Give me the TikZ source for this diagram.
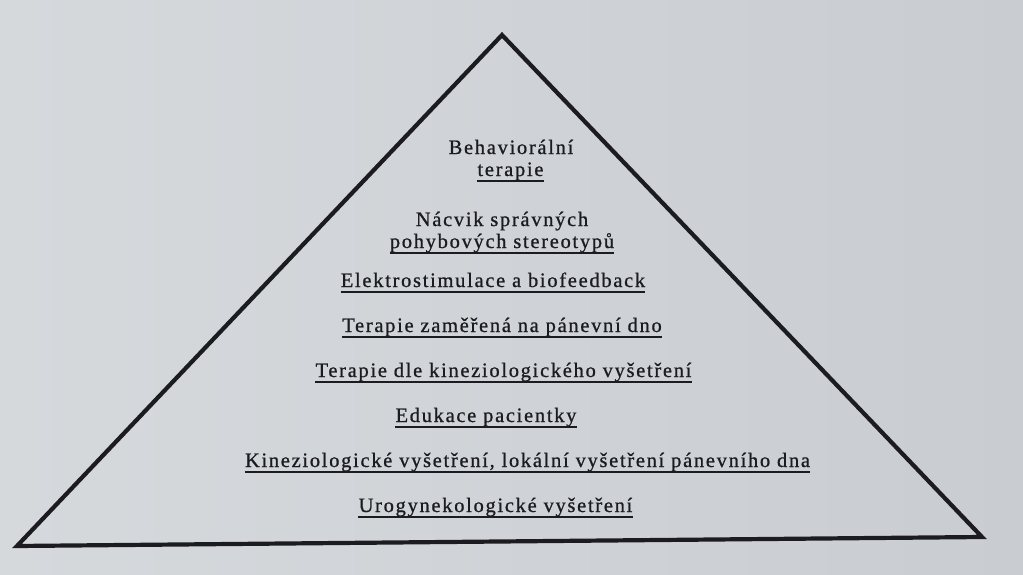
\documentclass[tikz,border=0pt]{standalone}
\usepackage{fontspec}
\newfontfamily\ulfont[LetterSpace=8.3,FakeBold=0.8]{Liberation Serif}
\definecolor{paper}{RGB}{201,205,210}
\definecolor{paperlight}{RGB}{214,217,220}
\definecolor{ink}{RGB}{28,28,32}
\tikzset{
  lbl/.style={font=\ulfont\fontsize{20.5}{24}\selectfont, inner sep=0pt, anchor=base, text=ink},
  ul/.style={draw=ink, line width=2.4pt},
  tri/.style={draw=ink, line width=4.2pt, line join=miter}
}
\begin{document}
\begin{tikzpicture}[x=1pt,y=-1pt]
\useasboundingbox (0,0) rectangle (1023,575);
\shade[left color=paperlight, right color=paper] (0,0) rectangle (1023,575);
\coordinate (A) at (502,35);
\coordinate (B) at (17,546);
\coordinate (C) at (982,537);
\draw[tri] (A) -- (B) -- (C) -- cycle;
\node[lbl] (t1a) at (511,154) {Behaviorální};
\node[lbl] (t1b) at (510.5,176) {terapie};
\node[lbl] (t2a) at (502,226) {Nácvik správných};
\node[lbl] (t2b) at (502,248) {pohybových stereotypů};
\node[lbl] (t3) at (493,287) {Elektrostimulace a biofeedback};
\node[lbl] (t4) at (502,332) {Terapie zaměřená na pánevní dno};
\node[lbl] (t5) at (503.5,377) {Terapie dle kineziologického vyšetření};
\node[lbl] (t6) at (486,422) {Edukace pacientky};
\node[lbl] (t7) at (527.5,467) {Kineziologické vyšetření, lokální vyšetření pánevního dna};
\node[lbl] (t8) at (495.5,512) {Urogynekologické vyšetření};
\foreach \n in {t1b,t2b,t3,t4,t5,t6,t7,t8}{
  \draw[ul] ([yshift=-5pt]\n.base west) -- ([yshift=-5pt]\n.base east);
}
\end{tikzpicture}
\end{document}
